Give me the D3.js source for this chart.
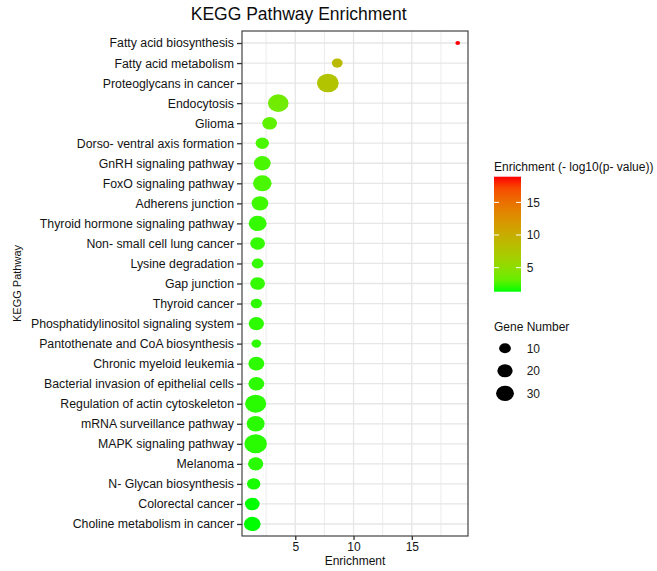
<!DOCTYPE html>
<html>
<head>
<meta charset="utf-8">
<script src="https://cdn.jsdelivr.net/npm/d3@7"></script>
<style>
  body { margin: 0; background: #fff; }
  text { font-family: "Liberation Sans", Arial, sans-serif; }
</style>
</head>
<body>
<svg id="chart"></svg>
<script>
let pathways = [
  'Fatty acid biosynthesis', 'Fatty acid metabolism', 'Proteoglycans in cancer', 'Endocytosis',
  'Glioma', 'Dorso- ventral axis formation', 'GnRH signaling pathway', 'FoxO signaling pathway',
  'Adherens junction', 'Thyroid hormone signaling pathway', 'Non- small cell lung cancer',
  'Lysine degradation', 'Gap junction', 'Thyroid cancer', 'Phosphatidylinositol signaling system',
  'Pantothenate and CoA biosynthesis', 'Chronic myeloid leukemia', 'Bacterial invasion of epithelial cells',
  'Regulation of actin cytoskeleton', 'mRNA surveillance pathway', 'MAPK signaling pathway',
  'Melanoma', 'N- Glycan biosynthesis', 'Colorectal cancer', 'Choline metabolism in cancer'
]
let enrichment = [18.94, 8.6, 7.8, 3.54, 2.8, 2.17, 2.17, 2.17, 1.97, 1.77, 1.77, 1.77, 1.77,
  1.66, 1.66, 1.66, 1.66, 1.66, 1.6, 1.6, 1.6, 1.6, 1.43, 1.31, 1.31]
let geneNumber = [2, 8, 48, 42, 18, 14, 25, 33, 25, 30, 18, 10, 18, 9, 20, 6, 22, 22, 45, 30, 51, 20, 14, 18, 25]

let xTicks = [5, 10, 15]
let colorTicks = [5, 10, 15]
let sizeBreaks = [10, 20, 30]

let width = 657
let height = 571
let panel = { left: 242, right: 468, top: 31, bottom: 536 }
let stretch = 1.17

let svg = d3.select('#chart').attr('width', width).attr('height', height)

let values = pathways.map((p, i) => ({ name: p, x: enrichment[i], g: geneNumber[i] }))

let xMin = d3.min(enrichment), xMax = d3.max(enrichment)
let pad = (xMax - xMin) * 0.05
let xScale = d3.scaleLinear().domain([xMin - pad, xMax + pad]).range([panel.left, panel.right])
let yScale = d3.scalePoint().domain(pathways).range([panel.top, panel.bottom]).padding(0.6)

let colorScale = d3.scaleLinear().domain([xMin, xMax]).range(['#00ff00', '#ff0000']).interpolate(d3.interpolateLab)

let gMin = d3.min(geneNumber), gMax = d3.max(geneNumber)
let rScale = d3.scaleSqrt().domain([0, gMax - gMin]).range([2, 9.5])
let ry = (g) => rScale(Math.max(0, g - gMin))

// title
svg.append('text')
  .attr('x', 298.7).attr('y', 20)
  .attr('text-anchor', 'middle')
  .style('font-size', '17.5px')
  .attr('fill', '#0d0d0d')
  .text('KEGG Pathway Enrichment')

// grid
let g = svg.append('g')
let minor = d3.range(2.5, xScale.domain()[1], 5)
g.selectAll('.minor').data(minor).enter().append('line')
  .attr('x1', d => xScale(d)).attr('x2', d => xScale(d))
  .attr('y1', panel.top).attr('y2', panel.bottom)
  .attr('stroke', '#ececec').attr('stroke-width', 1)
g.selectAll('.majx').data(xTicks).enter().append('line')
  .attr('x1', d => xScale(d)).attr('x2', d => xScale(d))
  .attr('y1', panel.top).attr('y2', panel.bottom)
  .attr('stroke', '#e6e6e6').attr('stroke-width', 1.3)
g.selectAll('.majy').data(pathways).enter().append('line')
  .attr('x1', panel.left).attr('x2', panel.right)
  .attr('y1', d => yScale(d)).attr('y2', d => yScale(d))
  .attr('stroke', '#e6e6e6').attr('stroke-width', 1.3)

// dots
svg.selectAll('ellipse.dot')
  .data(values)
  .enter()
  .append('ellipse')
  .attr('class', 'dot')
  .attr('cx', d => xScale(d.x))
  .attr('cy', d => yScale(d.name))
  .attr('ry', d => ry(d.g))
  .attr('rx', d => ry(d.g) * stretch)
  .attr('fill', d => colorScale(d.x))

// panel border
svg.append('rect')
  .attr('x', panel.left).attr('y', panel.top)
  .attr('width', panel.right - panel.left).attr('height', panel.bottom - panel.top)
  .attr('fill', 'none').attr('stroke', '#444').attr('stroke-width', 1.2)

// axes
let yAxis = d3.axisLeft(yScale).tickSize(5).tickPadding(3)
let yG = svg.append('g').attr('transform', 'translate(' + panel.left + ',0)').call(yAxis)
yG.select('.domain').remove()
yG.selectAll('line').attr('stroke', '#333').attr('stroke-width', 1.3)
yG.selectAll('text').style('font-size', '12.3px').attr('fill', '#141414')
  .style('font-family', '"Liberation Sans", Arial, sans-serif')

let xAxis = d3.axisBottom(xScale).tickValues(xTicks).tickSize(4).tickPadding(2)
let xG = svg.append('g').attr('transform', 'translate(0,' + panel.bottom + ')').call(xAxis)
xG.select('.domain').remove()
xG.selectAll('line').attr('stroke', '#333').attr('stroke-width', 1.3)
xG.selectAll('text').style('font-size', '12px').attr('fill', '#141414')
  .style('font-family', '"Liberation Sans", Arial, sans-serif')

svg.append('text')
  .attr('x', (panel.left + panel.right) / 2).attr('y', 565)
  .attr('text-anchor', 'middle')
  .style('font-size', '12px').attr('fill', '#111')
  .text('Enrichment')

svg.append('text')
  .attr('transform', 'translate(21,' + ((panel.top + panel.bottom) / 2) + ') rotate(-90)')
  .attr('text-anchor', 'middle')
  .style('font-size', '11px').attr('fill', '#111')
  .text('KEGG Pathway')

// colour legend
let barX = 494, barW = 27, barTop = 176.7, barBottom = 291.7
let defs = svg.append('defs')
let grad = defs.append('linearGradient').attr('id', 'cgrad')
  .attr('x1', 0).attr('y1', 1).attr('x2', 0).attr('y2', 0)
d3.range(0, 1.0001, 0.1).forEach(t => {
  grad.append('stop').attr('offset', t).attr('stop-color', colorScale(xMin + t * (xMax - xMin)))
})
svg.append('text')
  .attr('x', barX).attr('y', 171)
  .style('font-size', '12px').attr('fill', '#111')
  .text('Enrichment (- log10(p- value))')
svg.append('rect')
  .attr('x', barX).attr('y', barTop).attr('width', barW).attr('height', barBottom - barTop)
  .attr('fill', 'url(#cgrad)')
let cScale = d3.scaleLinear().domain([xMin, xMax]).range([barBottom, barTop])
let cl = svg.append('g')
colorTicks.forEach(v => {
  cl.append('line').attr('x1', barX).attr('x2', barX + 5).attr('y1', cScale(v)).attr('y2', cScale(v))
    .attr('stroke', '#fff').attr('stroke-width', 1)
  cl.append('line').attr('x1', barX + barW - 5).attr('x2', barX + barW).attr('y1', cScale(v)).attr('y2', cScale(v))
    .attr('stroke', '#fff').attr('stroke-width', 1)
  cl.append('text').attr('x', 526.7).attr('y', cScale(v)).attr('dy', '0.35em')
    .style('font-size', '12px').attr('fill', '#1a1a1a').text(v)
})

// size legend
svg.append('text')
  .attr('x', barX).attr('y', 331)
  .style('font-size', '12px').attr('fill', '#111')
  .text('Gene Number')
let sizeY = d3.scalePoint().domain(sizeBreaks).range([348.3, 393.3])
let sl = svg.append('g')
sizeBreaks.forEach(v => {
  sl.append('ellipse').attr('cx', 505).attr('cy', sizeY(v))
    .attr('ry', ry(v)).attr('rx', ry(v) * stretch).attr('fill', '#000')
  sl.append('text').attr('x', 526.7).attr('y', sizeY(v)).attr('dy', '0.35em')
    .style('font-size', '12px').attr('fill', '#1a1a1a').text(v)
})
</script>
</body>
</html>
